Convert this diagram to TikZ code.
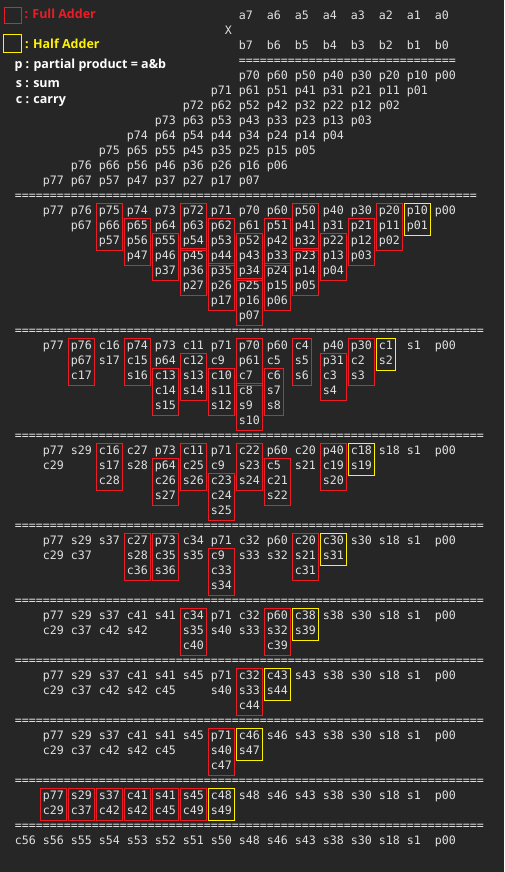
\documentclass[tikz,border=0pt]{standalone}
\usepackage{fontspec}
\usetikzlibrary{fit}
\newfontfamily\monofont{DejaVu Sans Mono}
\newfontfamily\legfont{Open Sans}
\definecolor{bg}{HTML}{262626}
\definecolor{fg}{HTML}{E0E0E0}
\definecolor{fared}{HTML}{ED1C24}
\definecolor{hayel}{HTML}{FFF200}
\ExplSyntaxOn
\cs_new:Npn \eqs #1 {\prg_replicate:nn{#1}{=}}
\ExplSyntaxOff
\tikzset{
  tok/.style={anchor=base west, inner sep=0pt, text=fg,
    font=\monofont\fontsize{11.63}{14}\selectfont, text height=8.5pt, text depth=2.4pt},
  fabox/.style={draw=fared, line width=1pt, inner xsep=2pt, inner ysep=2.8pt},
  habox/.style={draw=hayel, line width=1pt, inner xsep=2pt, inner ysep=2.8pt},
  leg/.style={anchor=base west, inner sep=0pt, text=white,
    font=\legfont\bfseries\fontsize{12.5}{15}\selectfont},
}
\newcommand\Col[3]{%
  \foreach \t [count=\i from #2] in {#3}{%
    \node[tok] (t#1-\i) at ({42.7+28*(#1)},{19.7+15*\i}) {\t};}}
\newcommand\FA[3]{\node[fabox, fit=(t#1-#2)(t#1-#3)] (fa#1-#2) {};}
\newcommand\HA[3]{\node[habox, fit=(t#1-#2)(t#1-#3)] (ha#1-#2) {};}
\newcommand\EqRow[3]{\node[tok] (eq#1) at ({42.7+28*(#2)},{19.7+15*(#1)}) {\eqs{#3}};}
\begin{document}
\begin{tikzpicture}[x=1pt,y=-1pt]
\fill[bg] (0,0) rectangle (504,872);
\useasboundingbox (0,0) rectangle (504,872);
% legend
\node[draw=fared, line width=1pt, minimum width=16.7pt, minimum height=16.6pt, inner sep=0pt, anchor=north west] (lgfa) at (4,6.7) {};
\node[draw=hayel, line width=1pt, minimum width=17.4pt, minimum height=18pt, inner sep=0pt, anchor=north west] (lgha) at (3.3,34.3) {};
\node[leg, text=fared] (lfa) at (24.3,19) {: Full Adder};
\node[leg, text=hayel] (lha) at (25,48.7) {: Half Adder};
\node[leg] (lp) at (14.3,68.3) {p : partial product = a\&b};
\node[leg] (ls) at (15.7,87.3) {s : sum};
\node[leg] (lc) at (15.7,104) {c : carry};
% operands
\foreach \a [count=\j from 7] in {7,6,5,4,3,2,1,0}{%
  \node[tok] (a\a) at ({42.7+28*\j},19.7) {a\a};
  \node[tok] (b\a) at ({42.7+28*\j},49.7) {b\a};}
\node[tok] (times) at (224.7,34.7) {X};
\EqRow{3}{7}{31}
% partial products
\foreach \j in {0,...,7}{%
  \foreach \a in {0,...,7}{%
    \pgfmathtruncatemacro\kk{14-\j-\a}%
    \pgfmathtruncatemacro\rr{4+\j}%
    \node[tok] (pp\a\j) at ({42.7+28*\kk},{19.7+15*\rr}) {p\a\j};}}
\EqRow{12}{-1}{66}
% stage 1
\Col{0}{13}{p77}
\Col{1}{13}{p76,p67}
\Col{2}{13}{p75,p66,p57}
\Col{3}{13}{p74,p65,p56,p47}
\Col{4}{13}{p73,p64,p55,p46,p37}
\Col{5}{13}{p72,p63,p54,p45,p36,p27}
\Col{6}{13}{p71,p62,p53,p44,p35,p26,p17}
\Col{7}{13}{p70,p61,p52,p43,p34,p25,p16,p07}
\Col{8}{13}{p60,p51,p42,p33,p24,p15,p06}
\Col{9}{13}{p50,p41,p32,p23,p14,p05}
\Col{10}{13}{p40,p31,p22,p13,p04}
\Col{11}{13}{p30,p21,p12,p03}
\Col{12}{13}{p20,p11,p02}
\Col{13}{13}{p10,p01}
\Col{14}{13}{p00}
\FA{2}{13}{15}\FA{3}{14}{16}\FA{4}{15}{17}\FA{5}{13}{15}\FA{5}{16}{18}
\FA{6}{14}{16}\FA{6}{17}{19}\FA{7}{15}{17}\FA{7}{18}{20}\FA{8}{14}{16}
\FA{8}{17}{19}\FA{9}{13}{15}\FA{9}{16}{18}\FA{10}{15}{17}\FA{11}{14}{16}
\FA{12}{13}{15}\HA{13}{13}{14}
\EqRow{21}{-1}{67}
% stage 2
\Col{0}{22}{p77}
\Col{1}{22}{p76,p67,c17}
\Col{2}{22}{c16,s17}
\Col{3}{22}{p74,c15,s16}
\Col{4}{22}{p73,p64,c13,c14,s15}
\Col{5}{22}{c11,c12,s13,s14}
\Col{6}{22}{p71,c9,c10,s11,s12}
\Col{7}{22}{p70,p61,c7,c8,s9,s10}
\Col{8}{22}{p60,c5,c6,s7,s8}
\Col{9}{22}{c4,s5,s6}
\Col{10}{22}{p40,p31,c3,s4}
\Col{11}{22}{p30,c2,s3}
\Col{12}{22}{c1,s2}
\Col{13}{22}{s1}
\Col{14}{22}{p00}
\FA{1}{22}{24}\FA{3}{22}{24}\FA{4}{24}{26}\FA{5}{23}{25}\FA{6}{24}{26}
\FA{7}{22}{24}\FA{7}{25}{27}\FA{8}{24}{26}\FA{9}{22}{24}\FA{10}{23}{25}
\FA{11}{22}{24}\HA{12}{22}{23}
\EqRow{28}{-1}{67}
% stage 3
\Col{0}{29}{p77,c29}
\Col{1}{29}{s29}
\Col{2}{29}{c16,s17,c28}
\Col{3}{29}{c27,s28}
\Col{4}{29}{p73,p64,c26,s27}
\Col{5}{29}{c11,c25,s26}
\Col{6}{29}{p71,c9,c23,c24,s25}
\Col{7}{29}{c22,s23,s24}
\Col{8}{29}{p60,c5,c21,s22}
\Col{9}{29}{c20,s21}
\Col{10}{29}{p40,c19,s20}
\Col{11}{29}{c18,s19}
\Col{12}{29}{s18}
\Col{13}{29}{s1}
\Col{14}{29}{p00}
\FA{2}{29}{31}\FA{4}{30}{32}\FA{5}{29}{31}\FA{6}{31}{33}\FA{7}{29}{31}
\FA{8}{30}{32}\FA{10}{29}{31}\HA{11}{29}{30}
\EqRow{34}{-1}{67}
% stage 4
\Col{0}{35}{p77,c29}
\Col{1}{35}{s29,c37}
\Col{2}{35}{s37}
\Col{3}{35}{c27,s28,c36}
\Col{4}{35}{p73,c35,s36}
\Col{5}{35}{c34,s35}
\Col{6}{35}{p71,c9,c33,s34}
\Col{7}{35}{c32,s33}
\Col{8}{35}{p60,s32}
\Col{9}{35}{c20,s21,c31}
\Col{10}{35}{c30,s31}
\Col{11}{35}{s30}
\Col{12}{35}{s18}
\Col{13}{35}{s1}
\Col{14}{35}{p00}
\FA{3}{35}{37}\FA{4}{35}{37}\FA{6}{36}{38}\FA{9}{35}{37}\HA{10}{35}{36}
\EqRow{39}{-1}{67}
% stage 5
\Col{0}{40}{p77,c29}
\Col{1}{40}{s29,c37}
\Col{2}{40}{s37,c42}
\Col{3}{40}{c41,s42}
\Col{4}{40}{s41}
\Col{5}{40}{c34,s35,c40}
\Col{6}{40}{p71,s40}
\Col{7}{40}{c32,s33}
\Col{8}{40}{p60,s32,c39}
\Col{9}{40}{c38,s39}
\Col{10}{40}{s38}
\Col{11}{40}{s30}
\Col{12}{40}{s18}
\Col{13}{40}{s1}
\Col{14}{40}{p00}
\FA{5}{40}{42}\FA{8}{40}{42}\HA{9}{40}{41}
\EqRow{43}{-1}{67}
% stage 6
\Col{0}{44}{p77,c29}
\Col{1}{44}{s29,c37}
\Col{2}{44}{s37,c42}
\Col{3}{44}{c41,s42}
\Col{4}{44}{s41,c45}
\Col{5}{44}{s45}
\Col{6}{44}{p71,s40}
\Col{7}{44}{c32,s33,c44}
\Col{8}{44}{c43,s44}
\Col{9}{44}{s43}
\Col{10}{44}{s38}
\Col{11}{44}{s30}
\Col{12}{44}{s18}
\Col{13}{44}{s1}
\Col{14}{44}{p00}
\FA{7}{44}{46}\HA{8}{44}{45}
\EqRow{47}{-1}{67}
% stage 7
\Col{0}{48}{p77,c29}
\Col{1}{48}{s29,c37}
\Col{2}{48}{s37,c42}
\Col{3}{48}{c41,s42}
\Col{4}{48}{s41,c45}
\Col{5}{48}{s45}
\Col{6}{48}{p71,s40,c47}
\Col{7}{48}{c46,s47}
\Col{8}{48}{s46}
\Col{9}{48}{s43}
\Col{10}{48}{s38}
\Col{11}{48}{s30}
\Col{12}{48}{s18}
\Col{13}{48}{s1}
\Col{14}{48}{p00}
\FA{6}{48}{50}\HA{7}{48}{49}
\EqRow{51}{-1}{67}
% stage 8
\Col{0}{52}{p77,c29}
\Col{1}{52}{s29,c37}
\Col{2}{52}{s37,c42}
\Col{3}{52}{c41,s42}
\Col{4}{52}{s41,c45}
\Col{5}{52}{s45,c49}
\Col{6}{52}{c48,s49}
\Col{7}{52}{s48}
\Col{8}{52}{s46}
\Col{9}{52}{s43}
\Col{10}{52}{s38}
\Col{11}{52}{s30}
\Col{12}{52}{s18}
\Col{13}{52}{s1}
\Col{14}{52}{p00}
\FA{0}{52}{53}\FA{1}{52}{53}\FA{2}{52}{53}\FA{3}{52}{53}\FA{4}{52}{53}
\FA{5}{52}{53}\HA{6}{52}{53}
\EqRow{54}{-1}{67}
% result
\foreach \t [count=\k from -1] in {c56,s56,s55,s54,s53,s52,s51,s50,s48,s46,s43,s38,s30,s18,s1,p00}{%
  \node[tok] (r\k) at ({42.7+28*\k},{19.7+15*55}) {\t};}
\end{tikzpicture}
\end{document}
